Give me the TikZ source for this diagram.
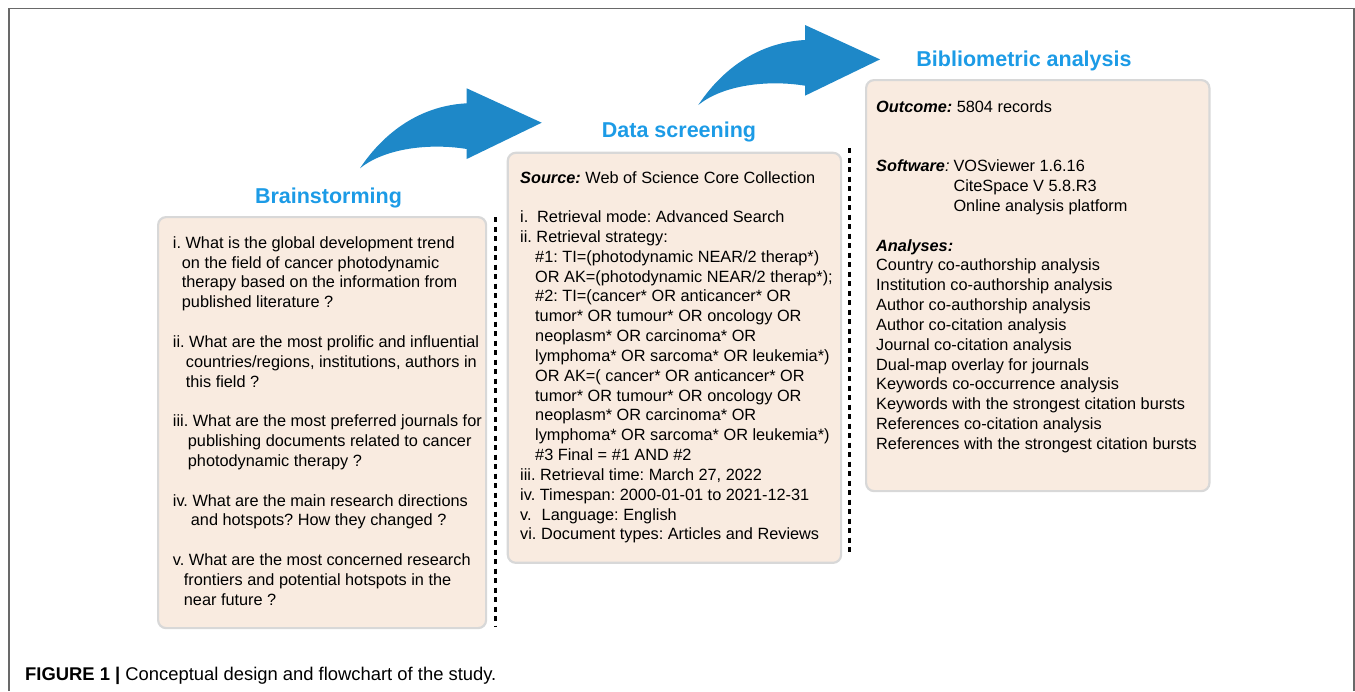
\documentclass[tikz,border=0pt]{standalone}
\usepackage{fontspec}
\setmainfont{Liberation Sans}
\definecolor{boxfill}{RGB}{249,235,224}
\definecolor{boxedge}{RGB}{216,216,216}
\definecolor{titleblue}{RGB}{28,155,230}
\definecolor{arrowblue}{RGB}{30,136,200}
\definecolor{framegray}{RGB}{105,105,105}
\newcommand{\bodyfont}{\fontsize{16.3}{19.83}\selectfont}
\newcommand{\bfit}[1]{\textbf{\textit{#1}}}
\frenchspacing
\begin{document}
\begin{tikzpicture}[x=1pt,y=-1pt,
  panel/.style={draw=boxedge, line width=2.2pt, fill=boxfill, rounded corners=8pt, anchor=north west, inner sep=0pt},
  divider/.style={line width=3pt, dash pattern=on 5pt off 4.5pt},
  title/.style={font=\fontsize{21.5}{25}\selectfont\bfseries, text=titleblue, anchor=base, inner sep=0pt},
  txt/.style={anchor=base west, inner sep=0pt, font=\bodyfont},
  bigarrow/.style={fill=arrowblue, draw=none}]
\useasboundingbox (0,0) rectangle (1355,691);
\draw[framegray, line width=1.5pt] (9,691) -- (9,8.5) -- (1354,8.5) -- (1354,691);

% curved arrows
\foreach \dx/\dy in {0/0, 338.3/-63.3}
  \fill[bigarrow, shift={(\dx,\dy)}] (360,168.3) .. controls (380,138) and (415,106) .. (466.7,103.3)
     -- (466.7,88.3) -- (541.7,122.7) -- (466.7,159) -- (466.7,149)
     .. controls (430,143) and (385,148) .. cycle;

% panels
\node[panel, minimum width=328pt, minimum height=411pt] (b1) at (157,216) {};
\node[panel, minimum width=333.3pt, minimum height=410pt] (b2) at (506.7,151.7) {};
\node[panel, minimum width=343.3pt, minimum height=411pt] (b3) at (865,79) {};

% dividers
\coordinate (d1t) at (495,217);
\coordinate (d1b) at (495,627);
\coordinate (d2t) at (849.5,148);
\coordinate (d2b) at (849.5,555);
\draw[divider] (d1t) -- (d1b);
\draw[divider] (d2t) -- (d2b);

% titles
\node[title] (t1) at (328.5,203) {Brainstorming};
\node[title] (t2) at (679,137) {Data screening};
\node[title] (t3) at (1024,66) {Bibliometric analysis};

% texts
\node[txt] (x1) at (172.7,248.3) {\begin{tabular}[t]{@{}l@{}}
i. What is the global development trend\\
\hspace*{9pt}on the field of cancer photodynamic\\
\hspace*{9pt}therapy based on the information from\\
\hspace*{9pt}published literature ?\\
\\
ii. What are the most prolific and influential\\
\hspace*{13pt}countries/regions, institutions, authors in\\
\hspace*{13pt}this field ?\\
\\
iii. What are the most preferred journals for\\
\hspace*{15pt}publishing documents related to cancer\\
\hspace*{15pt}photodynamic therapy ?\\
\\
iv. What are the main research directions\\
\hspace*{18pt}and hotspots? How they changed ?\\
\\
v. What are the most concerned research\\
\hspace*{11pt}frontiers and potential hotspots in the\\
\hspace*{11pt}near future ?
\end{tabular}};

\node[txt] (x2) at (520,183) {\begin{tabular}[t]{@{}l@{}}
\bfit{Source:} Web of Science Core Collection\\
\\
\makebox[17pt][l]{i.}Retrieval mode: Advanced Search\\
ii. Retrieval strategy:\\
\hspace*{15pt}\#1: TI=(photodynamic NEAR/2 therap*)\\
\hspace*{15pt}OR AK=(photodynamic NEAR/2 therap*);\\
\hspace*{15pt}\#2: TI=(cancer* OR anticancer* OR\\
\hspace*{15pt}tumor* OR tumour* OR oncology OR\\
\hspace*{15pt}neoplasm* OR carcinoma* OR\\
\hspace*{15pt}lymphoma* OR sarcoma* OR leukemia*)\\
\hspace*{15pt}OR AK=( cancer* OR anticancer* OR\\
\hspace*{15pt}tumor* OR tumour* OR oncology OR\\
\hspace*{15pt}neoplasm* OR carcinoma* OR\\
\hspace*{15pt}lymphoma* OR sarcoma* OR leukemia*)\\
\hspace*{15pt}\#3 Final = \#1 AND \#2\\
iii. Retrieval time: March 27, 2022\\
iv. Timespan: 2000-01-01 to 2021-12-31\\
\makebox[21.5pt][l]{v.}Language: English\\
vi. Document types: Articles and Reviews
\end{tabular}};

\node[txt] (x3) at (876,112.3) {\begin{tabular}[t]{@{}l@{}}
\bfit{Outcome:} 5804 records\\
\\
\\
\makebox[77.3pt][l]{\bfit{Software}\textit{:}}VOSviewer 1.6.16\\
\hspace*{77.3pt}CiteSpace V 5.8.R3\\
\hspace*{77.3pt}Online analysis platform\\
\\
\bfit{Analyses:}\\
Country co-authorship analysis\\
Institution co-authorship analysis\\
Author co-authorship analysis\\
Author co-citation analysis\\
Journal co-citation analysis\\
Dual-map overlay for journals\\
Keywords co-occurrence analysis\\
Keywords with the strongest citation bursts\\
References co-citation analysis\\
References with the strongest citation bursts
\end{tabular}};

% caption
\node[anchor=base west, inner sep=0pt, font=\fontsize{18.4}{22}\selectfont] (cap) at (25,680)
  {\textbf{FIGURE 1 |} Conceptual design and flowchart of the study.};
\end{tikzpicture}
\end{document}
